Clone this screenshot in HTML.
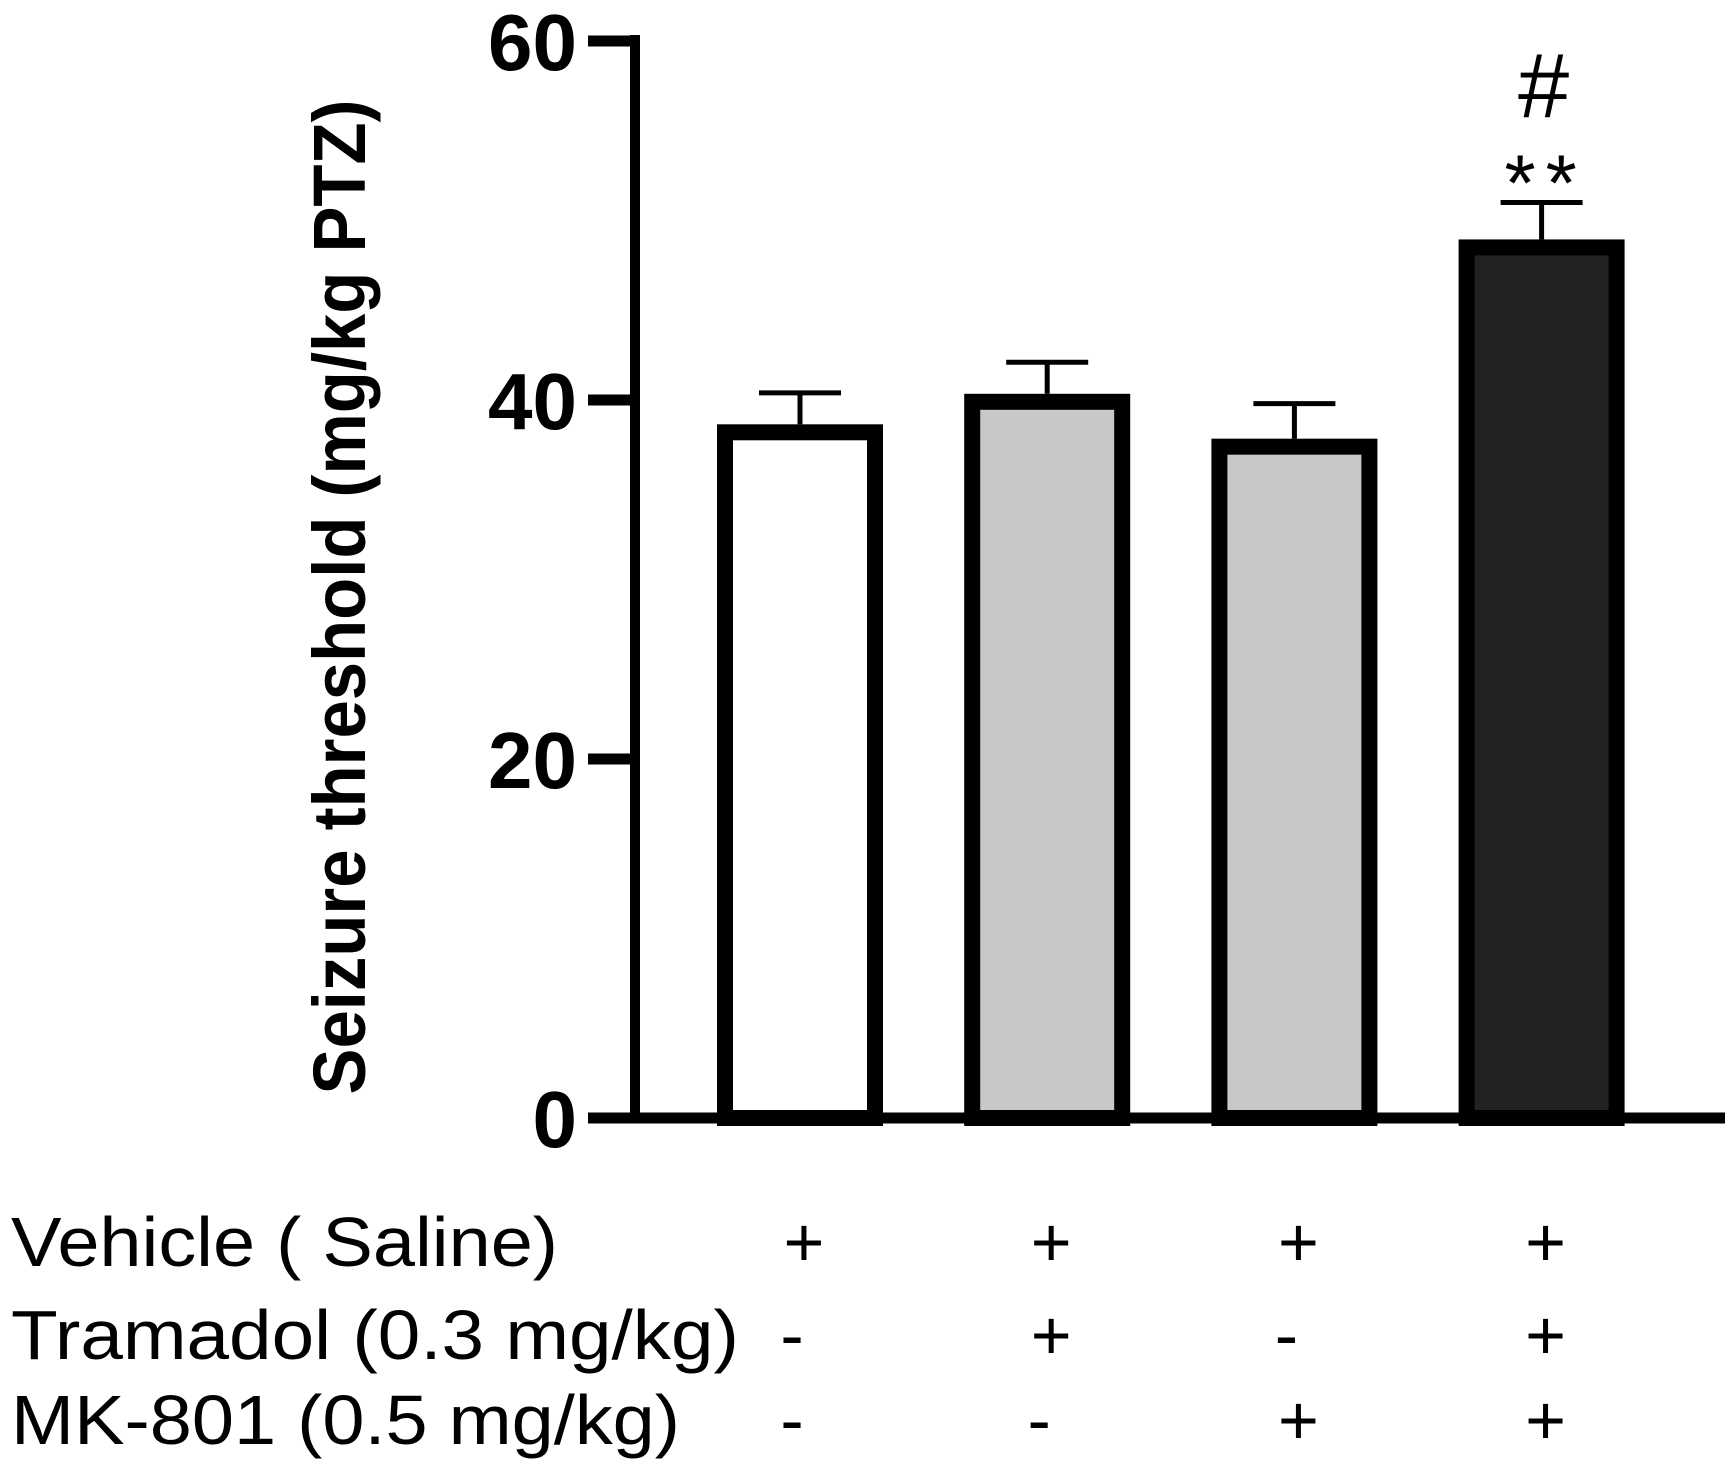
<!DOCTYPE html>
<html><head><meta charset="utf-8"><style>
html,body{margin:0;padding:0;background:#fff;}
svg{display:block;}
text{font-family:"Liberation Sans",Arial,sans-serif;fill:#000;}
</style></head><body>
<svg id="chart" width="1725" height="1464" viewBox="0 0 1725 1464" xmlns="http://www.w3.org/2000/svg">
<g id="axes"></g>
<g id="bars"></g>
<g id="rows"></g>
<text transform="translate(365,597) rotate(-90)" text-anchor="middle" font-size="74" font-weight="bold" textLength="995" lengthAdjust="spacingAndGlyphs">Seizure threshold (mg/kg PTZ)</text>
</svg>
<script>
const groups = ["Vehicle", "Tramadol", "MK-801", "Tramadol+MK-801"];
const means = [38.2, 39.9, 37.4, 48.5];
const errors = [2.2, 2.2, 2.4, 2.5];
const fills = ["#ffffff", "#c8c8c8", "#c8c8c8", "#222222"];
const yTicks = [0, 20, 40, 60];
const rowLabels = ["Vehicle ( Saline)", "Tramadol (0.3 mg/kg)", "MK-801 (0.5 mg/kg)"];
const rowSigns = [["+","+","+","+"],["-","+","-","+"],["-","-","+","+"]];
const annotations = ["", "", "", "**|#"];

const NS = "http://www.w3.org/2000/svg";
const y0 = 1118, pxPerUnit = 359/20;
function yScale(v){ return y0 - v*pxPerUnit; }
function xScale(i){ return 800 + i*247.2; }
function mk(tag, attrs, parent){ const e=document.createElementNS(NS,tag); for(const k in attrs) e.setAttribute(k, attrs[k]); parent.appendChild(e); return e; }

const axes = document.getElementById('axes');
let yl = mk('line',{x1:635,y1:yScale(60)-6,x2:635,y2:y0+5,stroke:'#000','stroke-width':10},axes);


let xl = mk('line',{x1:588,y1:y0,x2:1725,y2:y0,stroke:'#000','stroke-width':11},axes);


yTicks.forEach(t=>{
  const y=yScale(t);
  const tk=mk('line',{x1:588,y1:y,x2:636,y2:y,stroke:'#000','stroke-width':11},axes);
  
  
  const lb=mk('text',{x:577,y:y+29,'text-anchor':'end','font-size':80,'font-weight':'bold'},axes);
  lb.textContent=String(t);
  
  
});

const bars = document.getElementById('bars');
means.forEach((m,i)=>{
  const cx=xScale(i), top=yScale(m);
  const r=mk('rect',{x:cx-75,y:top,width:150,height:y0-top,fill:fills[i],stroke:'#000','stroke-width':16},bars);
  
  
  const et=yScale(m+errors[i]);
  const st=mk('line',{x1:cx,y1:top-8,x2:cx,y2:et,stroke:'#000','stroke-width':5},bars);
  
  
  const cp=mk('line',{x1:cx-41,y1:et,x2:cx+41,y2:et,stroke:'#000','stroke-width':5},bars);
  
  
  if(annotations[i]){
    const parts=annotations[i].split('|');
    const a=mk('text',{x:cx+4,y:et+8,'text-anchor':'middle','font-size':80,'letter-spacing':10},bars);
    a.textContent=parts[0];
    
    
    const h=mk('text',{x:cx+2,y:et-85,'text-anchor':'middle','font-size':92},bars);
    h.textContent=parts[1];
    
    
  }
});

const rows = document.getElementById('rows');
const baselines=[1266,1359,1444], lens=[547,728,669];
rowLabels.forEach((lab,r)=>{
  const t=mk('text',{x:11,y:baselines[r],'font-size':70,textLength:lens[r],lengthAdjust:'spacingAndGlyphs'},rows);
  t.textContent=lab;
  
  
  rowSigns[r].forEach((s,i)=>{
    const g=mk('text',{x:xScale(i)+(s==='-'?-8:4),y:baselines[r],'text-anchor':'middle','font-size':70},rows);
    g.textContent=s;
    
    
  });
});
</script>
</body></html>
